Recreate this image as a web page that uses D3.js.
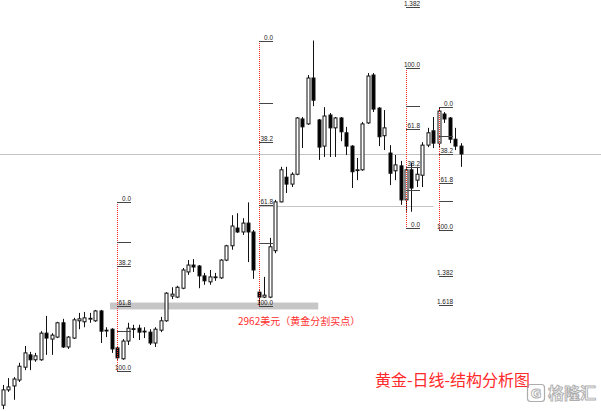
<!DOCTYPE html>
<html><head><meta charset="utf-8">
<script src="https://cdn.jsdelivr.net/npm/d3@7"></script>
<style>html,body{margin:0;padding:0;background:#fff;overflow:hidden}</style>
</head><body><svg id="c" width="601" height="411"></svg>
<script>
// ---- data (gold daily OHLC, USD) ----
const open  = [2761,2792,2800,2812,2838,2863,2853,2853,2907,2895,2899,2928,2879,2897,2932,2930,2936,2932,2952,2913,2915,2877,2855,2891,2916,2917,2910,2909,2887,2913,2932,2982,2980,2998,3031,3045,3043,3023,3011,3020,3019,3055,3084,3120,3112,3130,3112,2990,2980,2980,3074,3173,3223,3209,3229,3341,3331,3424,3339,3286,3349,3323,3343,3313,3286,3237,3238,3333,3430,3363,3307,3272,3236,3246,3177,3238,3217,3227,3288,3317,3292,3351,3343,3300,3286];
const high  = [2802,2816,2818,2847,2881,2869,2867,2911,2942,2907,2930,2936,2901,2938,2948,2950,2948,2954,2954,2919,2917,2881,2895,2928,2924,2924,2919,2915,2919,2940,2990,3000,3003,3039,3055,3057,3045,3029,3035,3029,3057,3086,3146,3150,3140,3172,3116,2994,3021,3100,3177,3244,3244,3233,3345,3345,3430,3500,3341,3365,3353,3345,3345,3325,3288,3262,3335,3434,3434,3365,3359,3288,3268,3256,3242,3252,3244,3294,3323,3345,3365,3355,3345,3323,3292];
const low   = [2753,2788,2772,2808,2832,2832,2849,2851,2863,2863,2897,2877,2875,2895,2915,2919,2928,2930,2887,2899,2867,2853,2853,2883,2897,2893,2897,2883,2879,2909,2930,2976,2978,2996,3025,3031,2998,3005,3005,3013,3017,3053,3076,3110,3106,3051,3017,2962,2978,2978,3069,3172,3191,3203,3227,3282,3329,3367,3258,3264,3264,3264,3296,3268,3201,3217,3236,3331,3355,3286,3278,3207,3217,3167,3153,3153,3203,3203,3284,3282,3282,3333,3292,3278,3244];
const close = [2792,2798,2814,2840,2867,2853,2861,2907,2897,2903,2928,2879,2899,2934,2936,2938,2937,2952,2911,2912,2875,2857,2891,2917,2915,2909,2911,2887,2915,2932,2988,2986,3000,3035,3045,3041,3023,3013,3021,3021,3055,3084,3124,3112,3130,3112,3035,2980,2984,3082,3173,3238,3209,3229,3343,3325,3424,3379,3284,3347,3323,3343,3315,3286,3234,3238,3331,3428,3361,3305,3323,3231,3248,3177,3238,3201,3229,3288,3313,3292,3357,3341,3300,3286,3270];

// Fibonacci retracement tools
const fibAnchor = [21, 47, 74, 80];          // candle index of each vertical
const fibHigh   = [3173, 3500, 3444, 3365];
const fibLow    = [2831, 2962, 3120, 3117];
const fibZeroAtLow = [false, false, true, false];
const fibLevels = [0, 23.6, 38.2, 61.8, 76.4, 100];
const fibLevelLabel = ["0.0", "", "38.2", "61.8", "", "100.0"];
const fibExtTool  = [2, 3, 3];
const fibExtLevel = [138.2, 138.2, 161.8];
const fibExtLabel = ["1.382", "1.382", "1.618"];

const zoneLow = 2955, zoneHigh = 2969;   // grey support band
const supportNote = "2962美元（黄金分割买点）";
const title = "黄金-日线-结构分析图";
const hLinePrice = 3270;     // full-width horizontal line
const tLinePrice = 3165;     // horizontal trend segment
const watermark = "格隆汇";

// ---- drawing ----
const W = 601, H = 411;
const svg = d3.select("#c");
const idx = open.map((_, i) => i);
const x = d3.scaleLinear().domain([0, idx.length - 1]).range([2.7, 460.5]);
const y = d3.scaleLinear().domain([2962, 3500]).range([306, 40.5]);
const px = v => Math.round(x(v)) + 0.5;

// grey band
svg.append("rect")
  .attr("x", x(19.7)).attr("width", x(57.9) - x(19.7))
  .attr("y", y(zoneHigh)).attr("height", y(zoneLow) - y(zoneHigh))
  .attr("fill", "#c6c6c6");

// horizontal lines
svg.append("line").attr("x1", 0).attr("x2", W)
  .attr("y1", Math.round(y(hLinePrice)) + 0.5).attr("y2", Math.round(y(hLinePrice)) + 0.5)
  .attr("stroke", "#c4c4c4").attr("stroke-width", 1);
svg.append("line").attr("x1", px(fibAnchor[1])).attr("x2", px(79))
  .attr("y1", Math.round(y(tLinePrice)) + 0.5).attr("y2", Math.round(y(tLinePrice)) + 0.5)
  .attr("stroke", "#c4c4c4").attr("stroke-width", 1);

// candles
const g = svg.append("g");
idx.forEach(i => {
  const cx = px(i);
  g.append("line").attr("x1", cx).attr("x2", cx)
    .attr("y1", y(high[i])).attr("y2", y(low[i]))
    .attr("stroke", "#111").attr("stroke-width", 1);
  const top = Math.min(y(open[i]), y(close[i]));
  const bot = Math.max(y(open[i]), y(close[i]));
  const bull = close[i] >= open[i];
  g.append("rect").attr("x", cx - 1.5).attr("width", 3)
    .attr("y", top).attr("height", Math.max(bot - top, 0.8))
    .attr("fill", bull ? "#fff" : "#000")
    .attr("stroke", "#111").attr("stroke-width", 1);
});

// fib tools
const fibPrice = (t, r) => fibZeroAtLow[t]
  ? fibLow[t] + r / 100 * (fibHigh[t] - fibLow[t])
  : fibHigh[t] - r / 100 * (fibHigh[t] - fibLow[t]);
const fg = svg.append("g");
function level(t, r, label) {
  const x0 = px(fibAnchor[t]);
  const yy = Math.round(y(fibPrice(t, r))) + 0.5;
  fg.append("line").attr("x1", x0 - 0.5).attr("x2", x0 + 13.5)
    .attr("y1", yy).attr("y2", yy).attr("stroke", "#444").attr("stroke-width", 1);
  if (label) fg.append("text").attr("x", x0 + 13.5).attr("y", yy - 1.5)
    .attr("text-anchor", "end").attr("font-family", "Liberation Sans, Arial, sans-serif")
    .attr("font-size", 6.4).attr("fill", "#222").text(label);
}
fibAnchor.forEach((a, t) => {
  const x0 = px(a);
  const y0 = Math.round(Math.min(y(fibPrice(t, 0)), y(fibPrice(t, 100))));
  const y1 = Math.round(Math.max(y(fibPrice(t, 0)), y(fibPrice(t, 100))));
  fg.append("line").attr("x1", x0).attr("x2", x0)
    .attr("y1", y0).attr("y2", y1)
    .attr("stroke", "#ff2a2a").attr("stroke-width", 1).attr("stroke-dasharray", "1,1");
  fibLevels.forEach((r, k) => level(t, r, fibLevelLabel[k]));
});
fibExtTool.forEach((t, k) => level(t, fibExtLevel[k], fibExtLabel[k]));

// annotations
svg.append("text").attr("x", 238).attr("y", 325)
  .attr("font-family", "Noto Sans CJK SC, sans-serif").attr("font-size", 10)
  .attr("fill", "#ff2f2f").text(supportNote);
svg.append("text").attr("x", 375).attr("y", 386)
  .attr("font-family", "Noto Sans CJK SC, sans-serif").attr("font-size", 16)
  .attr("fill", "#ff2a2a").text(title);

// watermark
const wm = svg.append("g").attr("opacity", 0.8);
wm.append("rect").attr("x", 527.5).attr("y", 384.5).attr("width", 17).attr("height", 17).attr("rx", 3)
  .attr("fill", "none").attr("stroke", "#999").attr("stroke-width", 1.2);
wm.append("text").attr("x", 536).attr("y", 398).attr("text-anchor", "middle")
  .attr("font-family", "DejaVu Sans, sans-serif").attr("font-weight", "bold").attr("font-size", 13)
  .attr("fill", "#fff").attr("stroke", "#999").attr("stroke-width", 0.9).text("G");
wm.append("text").attr("x", 548).attr("y", 399)
  .attr("font-family", "Noto Sans CJK SC, sans-serif").attr("font-weight", "bold").attr("font-size", 16)
  .attr("fill", "#fff").attr("stroke", "#999").attr("stroke-width", 0.9).text(watermark);
</script></body></html>
